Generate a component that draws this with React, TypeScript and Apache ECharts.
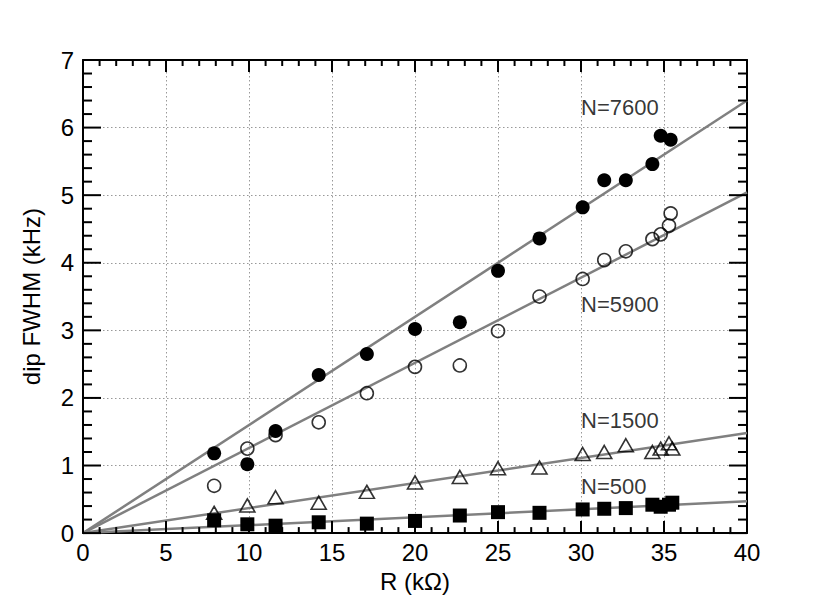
import React, { useEffect, useRef } from "react";
import * as echarts from "echarts";

const FONT = "'Liberation Sans', Arial, Helvetica, sans-serif";

const xN7600 = [7.9, 9.9, 11.6, 14.2, 17.1, 20.0, 22.7, 25.0, 27.5, 30.1, 31.4, 32.7, 34.3, 34.8, 35.4];
const yN7600 = [1.18, 1.02, 1.51, 2.34, 2.65, 3.02, 3.12, 3.88, 4.36, 4.82, 5.22, 5.22, 5.46, 5.88, 5.82];

const xN5900 = [7.9, 9.9, 11.6, 14.2, 17.1, 20.0, 22.7, 25.0, 27.5, 30.1, 31.4, 32.7, 34.3, 34.8, 35.3, 35.4];
const yN5900 = [0.70, 1.25, 1.45, 1.64, 2.07, 2.46, 2.48, 2.99, 3.50, 3.76, 4.04, 4.17, 4.35, 4.42, 4.55, 4.73];

const xN1500 = [7.9, 9.9, 11.6, 14.2, 17.1, 20.0, 22.7, 25.0, 27.5, 30.1, 31.4, 32.7, 34.3, 34.8, 35.3, 35.5];
const yN1500 = [0.30, 0.41, 0.53, 0.45, 0.61, 0.75, 0.83, 0.96, 0.97, 1.17, 1.20, 1.30, 1.20, 1.25, 1.33, 1.25];

const xN500 = [7.9, 9.9, 11.6, 14.2, 17.1, 20.0, 22.7, 25.0, 27.5, 30.1, 31.4, 32.7, 34.3, 34.8, 35.3, 35.5];
const yN500 = [0.19, 0.13, 0.11, 0.16, 0.14, 0.18, 0.26, 0.31, 0.30, 0.35, 0.36, 0.37, 0.42, 0.39, 0.42, 0.45];

// linear fits through origin: value at R = 40 kΩ
const fitX = [0, 40];
const fitEnd = [6.4, 5.04, 1.48, 0.47];

const labelTexts = ["N=7600", "N=5900", "N=1500", "N=500"];
const labelX = [30.0, 30.0, 30.0, 30.0];
const labelY = [6.29, 3.38, 1.67, 0.69];

const xTicks = [0, 5, 10, 15, 20, 25, 30, 35, 40];
const yTicks = [0, 1, 2, 3, 4, 5, 6, 7];
const minorPerMajor = 5;

const zip = (xs: number[], ys: number[]) => xs.map((x, i) => [x, ys[i]]);

export default function App() {
  const ref = useRef<HTMLDivElement>(null);
  useEffect(() => {
    if (!ref.current) return;
    const chart = echarts.init(ref.current, null, { renderer: "svg" });
    const mkLine = (onZero: boolean) => ({ show: true, onZero, lineStyle: { color: "#000", width: 2 } });
    const split = { show: true, lineStyle: { color: "#999", width: 1, type: [1.5, 2.5] as any } };
    const fitColor = "#808080";
    const xMin = xTicks[0];
    const xMax = xTicks[xTicks.length - 1];
    const yMin = yTicks[0];
    const yMax = yTicks[yTicks.length - 1];
    const xStep = (xTicks[1] - xTicks[0]) / minorPerMajor;
    const yStep = (yTicks[1] - yTicks[0]) / minorPerMajor;

    const renderTicks = (_params: any, api: any) => {
      const bl = api.coord([xMin, yMin]);
      const tr = api.coord([xMax, yMax]);
      const children: any[] = [];
      const st = { stroke: "#000", lineWidth: 2 };
      const nx = Math.round((xMax - xMin) / xStep);
      for (let i = 0; i <= nx; i++) {
        const px = api.coord([xMin + i * xStep, yMin])[0];
        const len = i % minorPerMajor === 0 ? 12 : 6;
        children.push({ type: "line", shape: { x1: px, y1: bl[1], x2: px, y2: bl[1] - len }, style: st });
        children.push({ type: "line", shape: { x1: px, y1: tr[1], x2: px, y2: tr[1] + len }, style: st });
      }
      const ny = Math.round((yMax - yMin) / yStep);
      for (let j = 0; j <= ny; j++) {
        const py = api.coord([xMin, yMin + j * yStep])[1];
        const len = j % minorPerMajor === 0 ? 18 : 9;
        children.push({ type: "line", shape: { x1: bl[0], y1: py, x2: bl[0] + len, y2: py }, style: st });
        children.push({ type: "line", shape: { x1: tr[0], y1: py, x2: tr[0] - len, y2: py }, style: st });
      }
      return { type: "group", children };
    };

    const option: any = {
      animation: false,
      backgroundColor: "#fff",
      grid: { left: 83, right: 83, top: 60, bottom: 61, containLabel: false },
      xAxis: [
        {
          type: "value",
          position: "bottom",
          min: xMin,
          max: xMax,
          interval: 5,
          name: "R (kΩ)",
          nameLocation: "middle",
          nameGap: 30,
          nameTextStyle: { color: "#000", fontSize: 24, fontFamily: FONT },
          axisLine: mkLine(true),
          axisTick: { show: false },
          axisLabel: { color: "#000", fontSize: 24, fontFamily: FONT, margin: 7 },
          splitLine: split,
        },
        {
          type: "value",
          position: "top",
          min: xMin,
          max: xMax,
          interval: 5,
          axisLine: mkLine(false),
          axisTick: { show: false },
          axisLabel: { show: false },
          splitLine: { show: false },
        },
      ],
      yAxis: [
        {
          type: "value",
          position: "left",
          min: yMin,
          max: yMax,
          interval: 1,
          name: "dip FWHM (kHz)",
          nameLocation: "middle",
          nameGap: 40,
          nameTextStyle: { color: "#000", fontSize: 24, fontFamily: FONT },
          axisLine: mkLine(true),
          axisTick: { show: false },
          axisLabel: { color: "#000", fontSize: 24, fontFamily: FONT, margin: 9 },
          splitLine: split,
        },
        {
          type: "value",
          position: "right",
          min: yMin,
          max: yMax,
          interval: 1,
          axisLine: mkLine(false),
          axisTick: { show: false },
          axisLabel: { show: false },
          splitLine: { show: false },
        },
      ],
      series: [
        {
          type: "custom",
          coordinateSystem: "cartesian2d",
          xAxisIndex: 0,
          yAxisIndex: 0,
          data: [[xMin, yMin]],
          renderItem: renderTicks,
          silent: true,
          z: 6,
        },
        ...fitEnd.map((v) => ({
          type: "line",
          data: [
            [fitX[0], 0],
            [fitX[1], v],
          ],
          showSymbol: false,
          symbol: "none",
          lineStyle: { color: fitColor, width: 2.5 },
          silent: true,
          z: 2,
        })),
        {
          type: "scatter",
          data: zip(xN5900, yN5900),
          symbol: "circle",
          symbolSize: 13,
          itemStyle: { color: "rgba(255,255,255,0)", borderColor: "#000", borderWidth: 1.6 },
          z: 3,
        },
        {
          type: "scatter",
          data: zip(xN1500, yN1500),
          symbol: "triangle",
          symbolSize: [15, 13],
          itemStyle: { color: "rgba(255,255,255,0)", borderColor: "#000", borderWidth: 1.6 },
          z: 3,
        },
        {
          type: "scatter",
          data: zip(xN500, yN500),
          symbol: "rect",
          symbolSize: 14,
          itemStyle: { color: "#000", opacity: 1 },
          z: 4,
        },
        {
          type: "scatter",
          data: zip(xN7600, yN7600),
          symbol: "circle",
          symbolSize: 14,
          itemStyle: { color: "#000", opacity: 1 },
          z: 4,
        },
        {
          type: "scatter",
          data: labelTexts.map((t, i) => ({ value: [labelX[i], labelY[i]], name: t })),
          symbolSize: 1,
          itemStyle: { color: "rgba(0,0,0,0)" },
          label: {
            show: true,
            position: "inside",
            align: "left",
            verticalAlign: "middle",
            formatter: (p: any) => p.name,
            color: "#000",
            fontSize: 22,
            fontFamily: FONT,
          },
          silent: true,
          z: 5,
        },
      ],
    };
    chart.setOption(option);
    return () => chart.dispose();
  }, []);
  return (
    <div
      ref={ref}
      style={{ position: "fixed", left: 0, top: 0, width: 830, height: 598, background: "#fff" }}
    />
  );
}
